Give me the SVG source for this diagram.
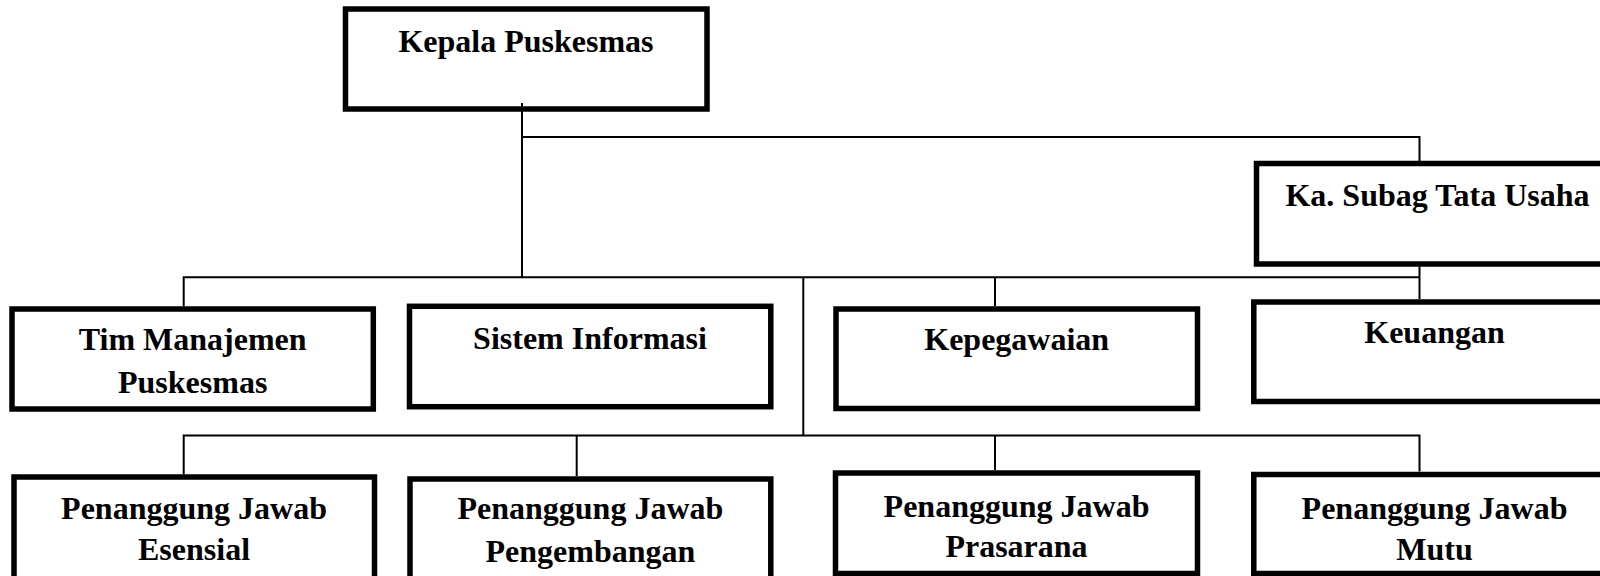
<svg xmlns="http://www.w3.org/2000/svg" width="1600" height="576" viewBox="0 0 1600 576">
<style>
.box{fill:#fff;stroke:#000;stroke-width:5.5}
.t{font-family:"Liberation Serif","Times New Roman",serif;font-weight:bold;font-size:32px;fill:#000;text-anchor:middle}
.c{stroke:#000;stroke-width:2;fill:none}
</style>
<rect width="1600" height="576" fill="#fff"/>
<g id="kepala">
<rect class="box" x="345.5" y="9" width="361.5" height="100"/>
<text class="t" x="526" y="52">Kepala Puskesmas</text>
</g>
<g id="subag">
<rect class="box" x="1256.5" y="163.5" width="362" height="100.5"/>
<text class="t" x="1437.5" y="206">Ka. Subag Tata Usaha</text>
</g>
<g id="tim">
<rect class="box" x="12" y="309" width="361.3" height="100"/>
<text class="t" x="192.7" y="350">Tim Manajemen</text>
<text class="t" x="192.7" y="392.5">Puskesmas</text>
</g>
<g id="sistem">
<rect class="box" x="409.5" y="306.3" width="361.3" height="100.4"/>
<text class="t" x="590" y="349.3">Sistem Informasi</text>
</g>
<g id="kepegawaian">
<rect class="box" x="836" y="309" width="361.5" height="99.5"/>
<text class="t" x="1016.7" y="350">Kepegawaian</text>
</g>
<g id="keuangan">
<rect class="box" x="1253.8" y="302" width="361.4" height="99.5"/>
<text class="t" x="1434.5" y="343.3">Keuangan</text>
</g>
<g id="esensial">
<rect class="box" x="14" y="477" width="360.5" height="110"/>
<text class="t" x="194" y="519.3">Penanggung Jawab</text>
<text class="t" x="194" y="560">Esensial</text>
</g>
<g id="pengembangan">
<rect class="box" x="410" y="479" width="360.8" height="110"/>
<text class="t" x="590.4" y="519.3">Penanggung Jawab</text>
<text class="t" x="590.4" y="562">Pengembangan</text>
</g>
<g id="prasarana">
<rect class="box" x="835.5" y="473" width="362" height="100.5"/>
<text class="t" x="1016.5" y="516.7">Penanggung Jawab</text>
<text class="t" x="1016.5" y="557">Prasarana</text>
</g>
<g id="mutu">
<rect class="box" x="1253.8" y="474.5" width="361.4" height="99"/>
<text class="t" x="1434.5" y="519.3">Penanggung Jawab</text>
<text class="t" x="1434.5" y="560">Mutu</text>
</g>
<g id="connectors">
<polyline class="c" points="522,103 522,277"/>
<polyline class="c" points="522,137 1419.5,137 1419.5,161"/>
<polyline class="c" points="1419.5,266.5 1419.5,299"/>
<polyline class="c" points="183.7,306 183.7,277.3 1419.5,277.3"/>
<polyline class="c" points="995,277.3 995,306"/>
<polyline class="c" points="803.3,277.3 803.3,435.5"/>
<polyline class="c" points="183.7,474 183.7,435.5 1419.5,435.5 1419.5,471.5"/>
<polyline class="c" points="576.7,435.5 576.7,476"/>
<polyline class="c" points="995,435.5 995,470"/>
</g>
</svg>
